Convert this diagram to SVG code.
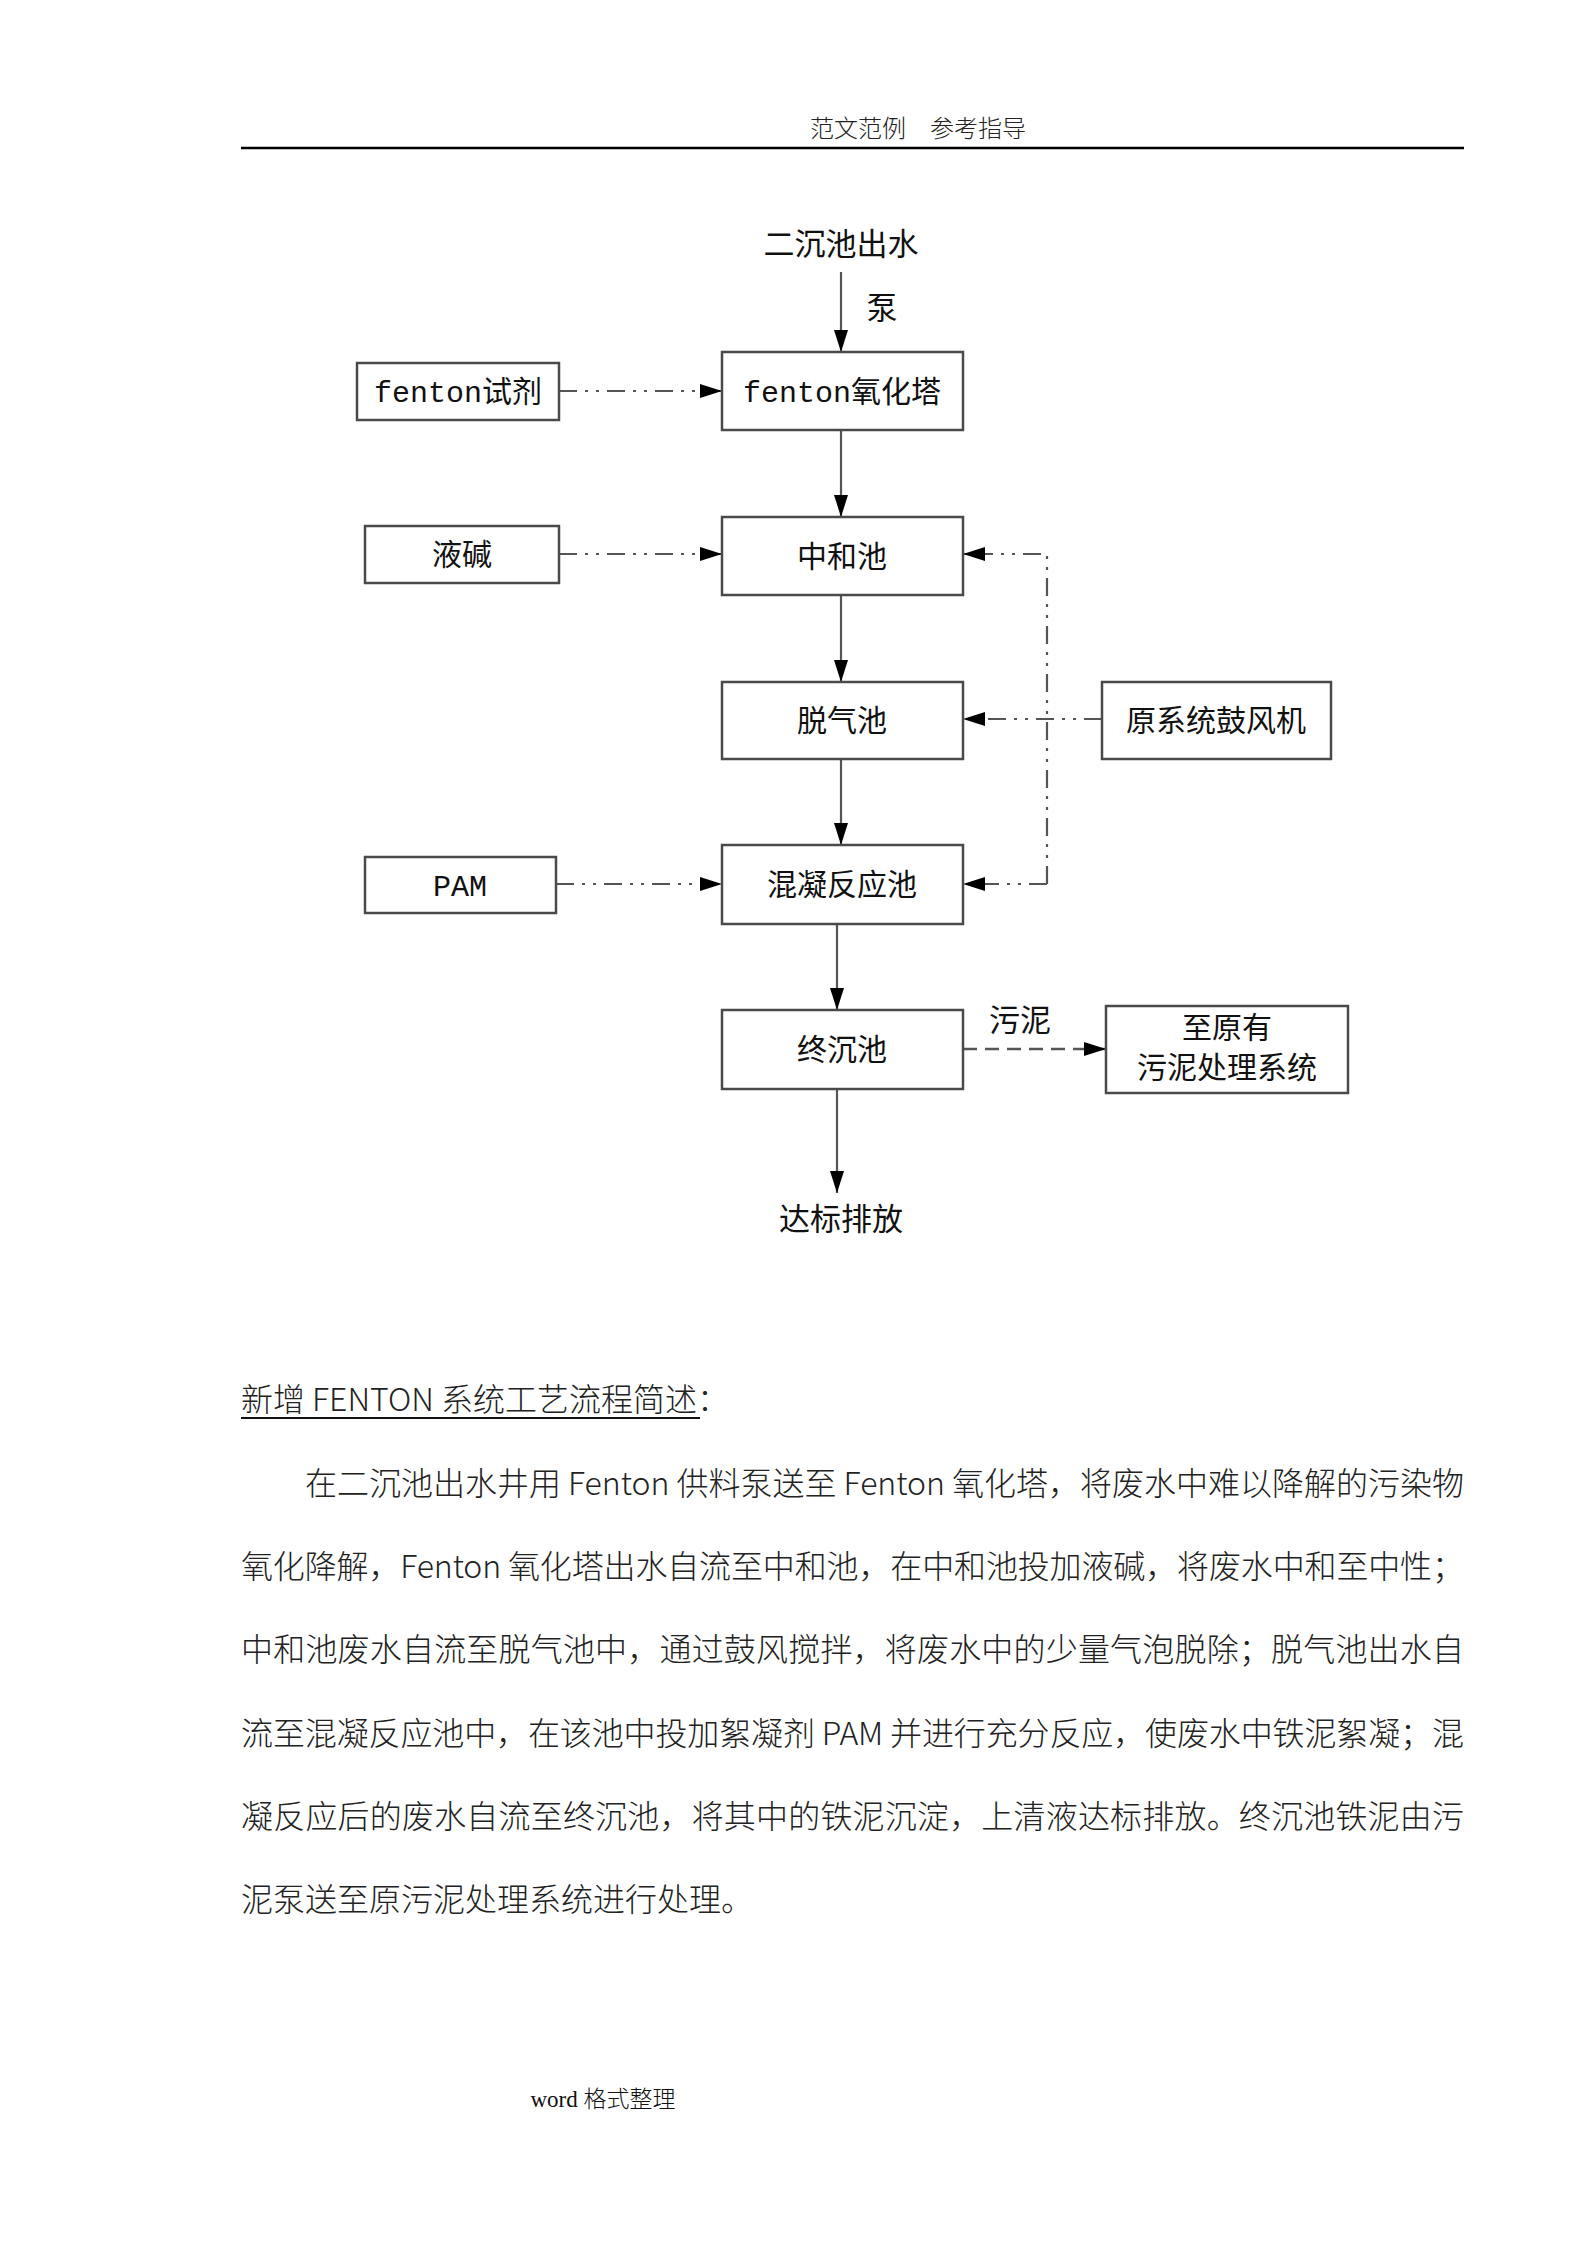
<svg xmlns="http://www.w3.org/2000/svg" width="1587" height="2245" viewBox="0 0 1587 2245">
<style>
.bg{fill:#fff}
.box{fill:#fff;stroke:#4a4a4a;stroke-width:2.5}
.lbl{font-family:"Liberation Mono","Noto Sans CJK SC",monospace;font-size:30px;fill:#111;text-anchor:middle}
.plain{font-family:"Noto Sans CJK SC",sans-serif;font-size:31px;fill:#111;text-anchor:middle}
.solid{fill:none;stroke:#555;stroke-width:2.2}
.dashdot{fill:none;stroke:#555;stroke-width:2.2;stroke-dasharray:18 8 3 8 3 8}
.dashed{fill:none;stroke:#555;stroke-width:2.6;stroke-dasharray:14 8}
.para{font-family:"Noto Sans CJK SC",sans-serif;font-weight:300;font-size:32px;fill:#222}
.hdr{font-family:"Noto Sans CJK SC",sans-serif;font-weight:300;font-size:24px;fill:#222;text-anchor:middle}
.ftr{font-family:"Liberation Serif","Noto Sans CJK SC",serif;font-weight:300;font-size:23px;fill:#111;text-anchor:middle}
</style>
<defs>
<marker id="ah" viewBox="0 0 22 14" refX="22" refY="7" markerWidth="22" markerHeight="14" markerUnits="userSpaceOnUse" orient="auto">
<path d="M0,0 L22,7 L0,14 z" fill="#000"/>
</marker>
</defs>
<rect class="bg" x="0" y="0" width="1587" height="2245"/>

<g id="header">
<text class="hdr" x="918" y="137">范文范例　参考指导</text>
<line x1="241" y1="148" x2="1464" y2="148" stroke="#000" stroke-width="2.5"/>
</g>

<g id="connectors">
<path class="solid" d="M841,272 L841,352" marker-end="url(#ah)"/>
<path class="dashdot" d="M559,391 L722,391" marker-end="url(#ah)"/>
<path class="solid" d="M841,430 L841,517" marker-end="url(#ah)"/>
<path class="dashdot" d="M559,554 L722,554" marker-end="url(#ah)"/>
<path class="solid" d="M841,595 L841,682" marker-end="url(#ah)"/>
<path class="dashdot" d="M1102,719 L963,719" marker-end="url(#ah)"/>
<path class="dashdot" d="M1047,884 L1047,554 L963,554" marker-end="url(#ah)"/>
<path class="dashdot" d="M1047,884 L963,884" marker-end="url(#ah)"/>
<path class="solid" d="M841,759 L841,845" marker-end="url(#ah)"/>
<path class="dashdot" d="M556,884 L722,884" marker-end="url(#ah)"/>
<path class="solid" d="M837,924 L837,1010" marker-end="url(#ah)"/>
<path class="dashed" d="M963,1049 L1106,1049" marker-end="url(#ah)"/>
<path class="solid" d="M837,1089 L837,1193" marker-end="url(#ah)"/>
<text class="plain" x="882" y="319">泵</text>
<text class="plain" x="1020" y="1031">污泥</text>
</g>

<g id="src"><text class="plain" x="841" y="255">二沉池出水</text></g>

<g id="fenton_tower">
<rect class="box" x="722" y="352" width="241" height="78"/>
<text class="lbl" x="842" y="402">fenton氧化塔</text>
</g>
<g id="fenton_reagent">
<rect class="box" x="357" y="363" width="202" height="57"/>
<text class="lbl" x="458" y="402">fenton试剂</text>
</g>
<g id="neutral">
<rect class="box" x="722" y="517" width="241" height="78"/>
<text class="lbl" x="842" y="567">中和池</text>
</g>
<g id="lye">
<rect class="box" x="365" y="526" width="194" height="57"/>
<text class="lbl" x="462" y="565">液碱</text>
</g>
<g id="degas">
<rect class="box" x="722" y="682" width="241" height="77"/>
<text class="lbl" x="842" y="731">脱气池</text>
</g>
<g id="blower">
<rect class="box" x="1102" y="682" width="229" height="77"/>
<text class="lbl" x="1216" y="731">原系统鼓风机</text>
</g>
<g id="coag">
<rect class="box" x="722" y="845" width="241" height="79"/>
<text class="lbl" x="842" y="895">混凝反应池</text>
</g>
<g id="pam">
<rect class="box" x="365" y="857" width="191" height="56"/>
<text class="lbl" x="460" y="896">PAM</text>
</g>
<g id="final">
<rect class="box" x="722" y="1010" width="241" height="79"/>
<text class="lbl" x="842" y="1060">终沉池</text>
</g>
<g id="sludge">
<rect class="box" x="1106" y="1006" width="242" height="87"/>
<text class="lbl" x="1227" y="1038">至原有</text>
<text class="lbl" x="1227" y="1078">污泥处理系统</text>
</g>
<g id="discharge"><text class="plain" x="841" y="1230">达标排放</text></g>

<g id="desc">
<text class="para" x="241" y="1411">新增 FENTON 系统工艺流程简述：</text>
<line x1="241" y1="1418" x2="700" y2="1418" stroke="#111" stroke-width="2"/>
<text class="para" x="305" y="1495" textLength="1159" lengthAdjust="spacing">在二沉池出水井用 Fenton 供料泵送至 Fenton 氧化塔，将废水中难以降解的污染物</text>
<text class="para" x="241" y="1578" textLength="1223" lengthAdjust="spacing">氧化降解，Fenton 氧化塔出水自流至中和池，在中和池投加液碱，将废水中和至中性；</text>
<text class="para" x="241" y="1661" textLength="1223" lengthAdjust="spacing">中和池废水自流至脱气池中，通过鼓风搅拌，将废水中的少量气泡脱除；脱气池出水自</text>
<text class="para" x="241" y="1745" textLength="1223" lengthAdjust="spacing">流至混凝反应池中，在该池中投加絮凝剂 PAM 并进行充分反应，使废水中铁泥絮凝；混</text>
<text class="para" x="241" y="1828" textLength="1223" lengthAdjust="spacing">凝反应后的废水自流至终沉池，将其中的铁泥沉淀，上清液达标排放。终沉池铁泥由污</text>
<text class="para" x="241" y="1911">泥泵送至原污泥处理系统进行处理。</text>
</g>

<g id="footer"><text class="ftr" x="603" y="2107">word 格式整理</text></g>
</svg>
